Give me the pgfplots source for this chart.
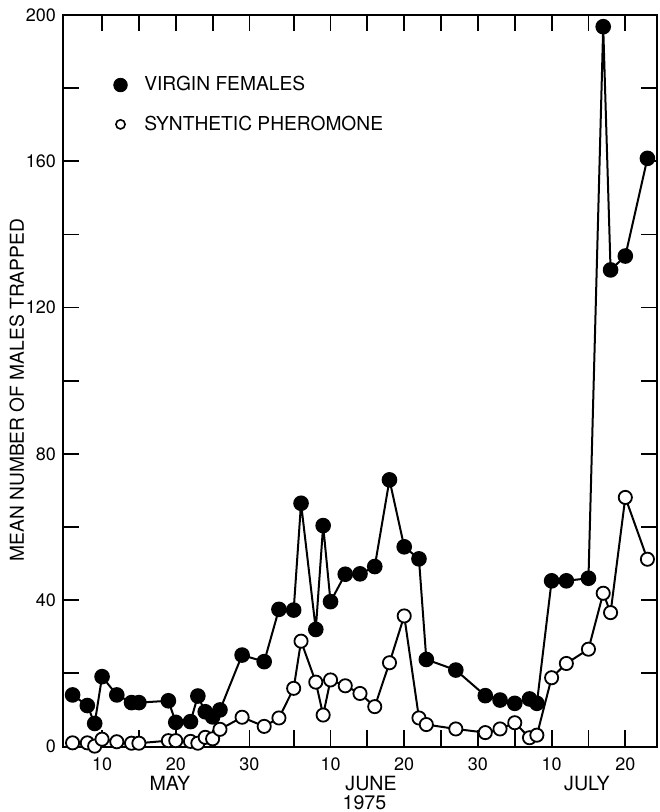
\documentclass[border=0pt]{standalone}
\usepackage{fontspec}
\setmainfont{TeX Gyre Heros}
\usepackage{pgfplots}
\pgfplotsset{compat=1.18}

% day of year 1975 (May 10 = 130, June 10 = 161, July 10 = 191)
\pgfplotstableread{
day  virgin synth
126  14.1  1.0
128  11.2  1.0
129   6.3  0.1
130  19.1  2.0
132  14.1  1.3
134  12.0  0.9
135  12.0  0.9
139  12.5  1.6
140   6.6  1.6
142   6.8  1.4
143  13.8  0.9
144   9.5  2.5
145   8.1  2.1
146  10.0  4.7
149  25.0  8.0
152  23.2  5.5
154  37.5  7.8
156  37.3 15.9
157  66.5 28.8
159  32.0 17.6
160  60.4  8.6
161  39.6 18.2
163  47.1 16.6
165  47.2 14.5
167  49.2 10.9
169  72.9 22.9
171  54.6 35.7
173  51.3  7.8
174  23.8  6.0
178  20.9  4.8
182  13.9  3.8
184  12.7  4.8
186  11.8  6.5
188  13.0  2.4
189  11.8  3.1
191  45.3 18.8
193  45.3 22.7
196  46.0 26.6
198 196.8 41.9
199 130.3 36.6
201 134.1 68.1
204 160.8 51.2
}\trap

\begin{document}
\begin{tikzpicture}
\useasboundingbox (-31.5pt,-32.75pt) rectangle (298pt,373.25pt);
\begin{axis}[
  at={(0,0)}, anchor=south west,
  scale only axis,
  width=297pt, height=365.75pt,
  xmin=124.7, xmax=205.3,
  ymin=0, ymax=200,
  clip=false,
  axis line style={line width=1pt},
  tick align=inside,
  major tick length=8pt, minor tick length=8pt,
  tick style={black, line width=0.9pt},
  xtick={130,140,150,161,171,181,191,201},
  xticklabels={10,20,30,10,20,30,10,20},
  minor xtick={135,145,156,166,176,186,196},
  ytick={0,40,...,200},
  minor ytick={20,60,...,180},
  /pgf/number format/assume math mode=true,
  tick label style={font=\fontsize{9}{9}\selectfont},
  xticklabel style={yshift=-2pt},
  legend cell align=left,
  legend image code/.code={\draw[#1] plot coordinates {(0pt,0pt)};},
  legend style={draw=none, fill=none, at={(rel axis cs:0.0746,0.9276)}, anchor=north west,
    font=\fontsize{9.6}{9.6}\selectfont, row sep=7pt, column sep=6.5pt},
]
\addlegendimage{only marks, mark=*, mark size=3.4pt, fill=black}
\addlegendentry{VIRGIN FEMALES}
\addlegendimage{only marks, mark=o, mark size=2.3pt, line width=0.8pt}
\addlegendentry{SYNTHETIC PHEROMONE}

\addplot[forget plot, black, line width=1pt, mark=*, mark size=3.4pt,
  mark options={fill=black}] table[x=day, y=virgin] {\trap};
\addplot[forget plot, black, line width=1pt, mark=*, mark size=3.3pt,
  mark options={fill=white, line width=0.9pt}] table[x=day, y=synth] {\trap};

\node[rotate=90, font=\fontsize{9.6}{9.6}\selectfont]
  at ([xshift=-23pt]rel axis cs:0,0.487) {MEAN NUMBER OF MALES TRAPPED};
\node[font=\fontsize{9.8}{9.8}\selectfont] at ([yshift=-18.5pt]axis cs:139.2,0) {MAY};
\node[font=\fontsize{9.8}{9.8}\selectfont] at ([yshift=-18.5pt]axis cs:166.5,0) {JUNE};
\node[font=\fontsize{9.8}{9.8}\selectfont] at ([yshift=-28.3pt]axis cs:165.6,0) {1975};
\node[font=\fontsize{9.8}{9.8}\selectfont] at ([yshift=-18.5pt]axis cs:195.8,0) {JULY};
\end{axis}
\end{tikzpicture}
\end{document}
